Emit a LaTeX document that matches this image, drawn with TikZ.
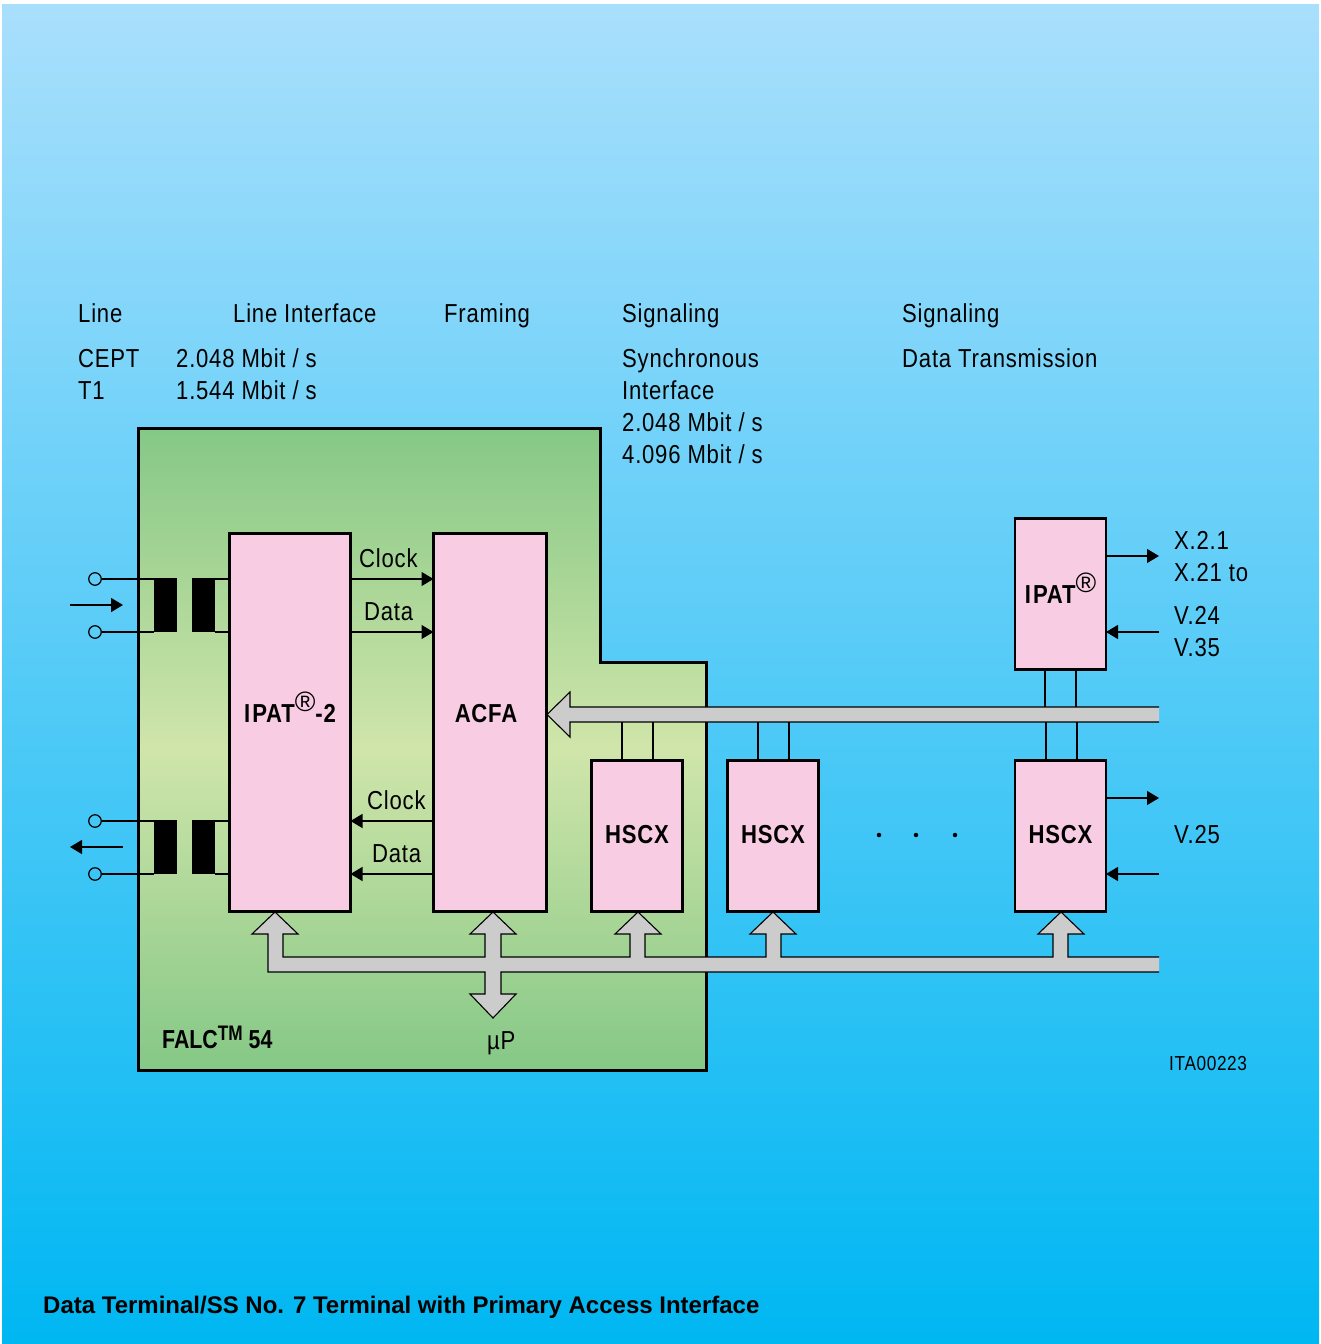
\documentclass[tikz,border=0pt]{standalone}
\usepackage{fontspec}
\setmainfont[FakeStretch=0.85,LetterSpace=3]{Liberation Sans}
\newfontfamily\titlefont{Liberation Sans}
\newfontfamily\falcfont[FakeStretch=0.82]{Liberation Sans}
\usepackage{tikz}
\usetikzlibrary{arrows.meta,positioning,calc}
\usepackage{xcolor}
\definecolor{skytop}{HTML}{A9DFFC}
\definecolor{skybot}{HTML}{00B7F2}
\definecolor{falcout}{HTML}{85C886}
\definecolor{falcmid}{HTML}{D0E5AA}
\definecolor{chippink}{HTML}{F8CCE2}
\definecolor{busgray}{HTML}{CCCCCC}

\tikzset{
  chip/.style={draw, line width=2.8pt, fill=chippink, inner sep=0pt, outer sep=0pt, font=\fontsize{26}{30}\selectfont\bfseries, text height=14pt, text depth=0pt},
  lbl/.style={anchor=base west, inner sep=0pt, font=\fontsize{26}{30}\selectfont},
  core/.style={fill=black, minimum width=23pt, minimum height=54pt, inner sep=0pt},
  pin/.style={draw, circle, minimum size=12.5pt, inner sep=0pt, line width=1.2pt},
  dotmark/.style={fill=black, circle, minimum size=4.5pt, inner sep=0pt},
  sig/.style={line width=1.3pt, -{Triangle[length=12pt,width=14pt]}},
  wire/.style={line width=1.3pt},
  bus/.style={draw, line width=1.1pt, fill=busgray}
}
\newcommand{\regmark}{\raisebox{11pt}{\fontsize{28}{30}\selectfont\titlefont\mdseries ®}}

\begin{document}
\begin{tikzpicture}[x=1pt, y=-1pt]
  \useasboundingbox (0,0) rectangle (1321,1344);
  \shade[top color=skytop, bottom color=skybot] (2,4) rectangle (1319,1344);

  % device outline
  \shade[top color=falcout, bottom color=falcout, middle color=falcmid] (138.5,428) -- (600.5,428) -- (600.5,662) -- (706,662) -- (706,1070) -- (138.5,1070) -- cycle;
  \draw[line width=3pt] (138.5,428) -- (600.5,428) -- (600.5,662) -- (706,662) -- (706,1070) -- (138.5,1070) -- cycle;

  % busses
  \draw[bus] (1159,707) -- (570,707) -- (570,692) -- (547,714.5) -- (570,737) -- (570,722) -- (1159,722);
  \draw[bus] (1159,957) -- (1068,957) -- (1068,934) -- (1084,934) -- (1061,912) -- (1038,934) -- (1053,934) -- (1053,957)
    -- (781,957) -- (781,934) -- (796,934) -- (773,912) -- (750,934) -- (766,934) -- (766,957)
    -- (645,957) -- (645,934) -- (661,934) -- (638,912) -- (615,934) -- (630,934) -- (630,957)
    -- (501,957) -- (501,934) -- (516,934) -- (493,912) -- (470,934) -- (485,934) -- (485,957)
    -- (283,957) -- (283,934) -- (298,934) -- (275,912) -- (252,934) -- (268,934) -- (268,972)
    -- (485,972) -- (485,994) -- (470,994) -- (493,1018) -- (516,994) -- (501,994) -- (501,972) -- (1159,972);
  \coordinate (busuptop) at (0,707);
  \coordinate (busupbot) at (0,722);

  % chips
  \node[chip, minimum width=121pt, minimum height=378pt, text height=0pt] (ipattwo) at (290,722.5) {I\kern2pt PAT\regmark-2};
  \node[chip, minimum width=113pt, minimum height=378pt, text height=0pt] (acfa) at (490,722.5) {\hspace*{-8pt}ACFA};
  \node[chip, minimum width=91pt, minimum height=151pt] (hscxa) at (637,836) {HSCX};
  \node[chip, minimum width=91pt, minimum height=151pt] (hscxb) at (773,836) {HSCX};
  \node[chip, minimum width=91pt, minimum height=151pt] (hscxc) at (1060.5,836) {HSCX};
  \node[chip, minimum width=91pt, minimum height=151pt, text height=18pt] (ipat) at (1060.5,594) {I\kern2pt PAT\regmark};

  % line side
  \node[pin] (pinta) at (95,579) {};
  \node[pin] (pintb) at (95,632) {};
  \node[pin] (pinra) at (95,821) {};
  \node[pin] (pinrb) at (95,874) {};
  \node[core] (corea) at (165.5,605) {};
  \node[core] (coreb) at (203.5,605) {};
  \node[core] (corec) at (165.5,847) {};
  \node[core] (cored) at (203.5,847) {};
  \draw[wire] (pinta) -- (corea.west |- pinta);
  \draw[wire] (pintb) -- (corea.west |- pintb);
  \draw[wire] (pinra) -- (corec.west |- pinra);
  \draw[wire] (pinrb) -- (corec.west |- pinrb);
  \draw[wire] (coreb.east |- pinta) -- (ipattwo.west |- pinta);
  \draw[wire] (coreb.east |- pintb) -- (ipattwo.west |- pintb);
  \draw[wire] (cored.east |- pinra) -- (ipattwo.west |- pinra);
  \draw[wire] (cored.east |- pinrb) -- (ipattwo.west |- pinrb);
  \coordinate (inl) at (70,605);
  \coordinate (inr) at (123,605);
  \coordinate (outr) at (123,847);
  \coordinate (outl) at (70,847);
  \draw[sig] (inl) -- (inr);
  \draw[sig] (outr) -- (outl);

  % clock and data
  \draw[sig] (ipattwo.east |- pinta) -- (acfa.west |- pinta);
  \draw[sig] (ipattwo.east |- pintb) -- (acfa.west |- pintb);
  \draw[sig] (acfa.west |- pinra) -- (ipattwo.east |- pinra);
  \draw[sig] (acfa.west |- pinrb) -- (ipattwo.east |- pinrb);

  % bus stubs
  \draw[wire] ([xshift=-15pt]hscxa.north) -- ([xshift=-15pt]hscxa.north |- busupbot);
  \draw[wire] ([xshift=16pt]hscxa.north) -- ([xshift=16pt]hscxa.north |- busupbot);
  \draw[wire] ([xshift=-15pt]hscxb.north) -- ([xshift=-15pt]hscxb.north |- busupbot);
  \draw[wire] ([xshift=16pt]hscxb.north) -- ([xshift=16pt]hscxb.north |- busupbot);
  \draw[wire] ([xshift=-14.5pt]hscxc.north) -- ([xshift=-14.5pt]hscxc.north |- busupbot);
  \draw[wire] ([xshift=16.5pt]hscxc.north) -- ([xshift=16.5pt]hscxc.north |- busupbot);
  \draw[wire] ([xshift=-15.5pt]ipat.south) -- ([xshift=-15.5pt]ipat.south |- busuptop);
  \draw[wire] ([xshift=15.5pt]ipat.south) -- ([xshift=15.5pt]ipat.south |- busuptop);

  % data ports
  \coordinate (portxa) at (1159,556);
  \coordinate (portxb) at (1159,632);
  \coordinate (portva) at (1159,798);
  \coordinate (portvb) at (1159,874);
  \draw[sig] (ipat.east |- portxa) -- (portxa);
  \draw[sig] (portxb) -- (ipat.east |- portxb);
  \draw[sig] (hscxc.east |- portva) -- (portva);
  \draw[sig] (portvb) -- (hscxc.east |- portvb);

  \node[dotmark] (dota) at (879,835) {};
  \node[dotmark] (dotb) at (916,835) {};
  \node[dotmark] (dotc) at (955,835) {};

  % headings
  \node[lbl] (hdline) at (78,322) {Line};
  \node[lbl] (hdiface) at (233,322) {Line Interface};
  \node[lbl] (hdframe) at (444,322) {Framing};
  \node[lbl] (hdsiga) at (622,322) {Signaling};
  \node[lbl] (hdsigb) at (902,322) {Signaling};
  \node[lbl] (cept) at (78,367) {CEPT};
  \node[lbl] (tone) at (78,399) {T1};
  \node[lbl] (ratee) at (176,367) {2.048 Mbit / s};
  \node[lbl] (ratet) at (176,399) {1.544 Mbit / s};
  \node[lbl] (sync) at (622,367) {Synchronous};
  \node[lbl] (iface) at (622,399) {Interface};
  \node[lbl] (ratea) at (622,431) {2.048 Mbit / s};
  \node[lbl] (rateb) at (622,463) {4.096 Mbit / s};
  \node[lbl] (dtrans) at (902,367) {Data Transmission};

  % signal labels
  \node[lbl] (clktx) at (359,567) {Clock};
  \node[lbl] (dattx) at (364,620) {Data};
  \node[lbl] (clkrx) at (367,809) {Clock};
  \node[lbl] (datrx) at (372,862) {Data};
  \node[lbl] (xtwo) at (1174,549) {X.2.1};
  \node[lbl] (xtwoone) at (1174,581) {X.21 to};
  \node[lbl] (vtwofour) at (1174,624) {V.24};
  \node[lbl] (vthree) at (1174,656) {V.35};
  \node[lbl] (vtwofive) at (1174,843) {V.25};
  \node[lbl] (upc) at (487,1049) {µP};
  \node[lbl, font=\fontsize{26}{30}\selectfont\falcfont\bfseries] (falc) at (162,1048) {FALC\raisebox{8pt}{\fontsize{21}{21}\selectfont TM} 54};
  \node[lbl, font=\fontsize{20.3}{24}\selectfont] (refno) at (1169,1070) {ITA00223};
  \node[lbl, font=\fontsize{24}{28}\selectfont\titlefont\bfseries] (caption) at (43,1313) {Data Terminal/SS No. 7 Terminal with Primary Access Interface};
\end{tikzpicture}
\end{document}
